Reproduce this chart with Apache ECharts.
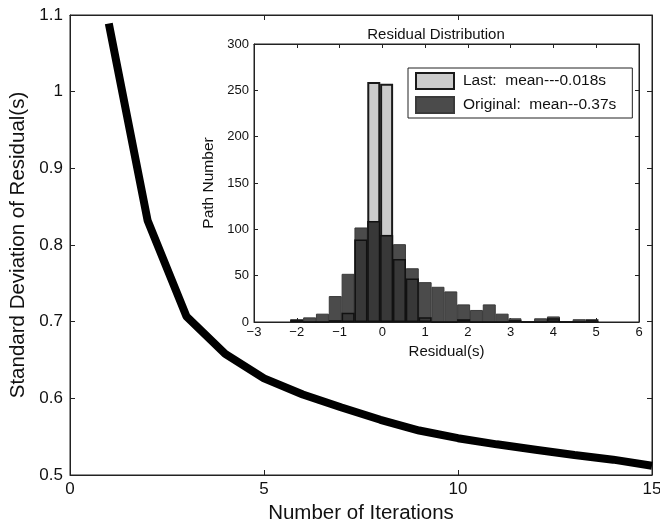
<!DOCTYPE html>
<html><head><meta charset="utf-8">
<script src="https://cdn.jsdelivr.net/npm/echarts@6/dist/echarts.min.js"></script>
<style>html,body{margin:0;padding:0;background:#fff}#c{width:660px;height:522px}</style>
</head><body><div id="c"></div>
<script>
// Main curve
const iterations = [1,2,3,4,5,6,7,8,9,10,11,12,13,14,15];
const stdResidual = [1.089,0.832,0.707,0.658,0.626,0.605,0.588,0.572,0.558,0.548,0.540,0.533,0.526,0.520,0.512];
// Inset histogram
const binCenters = [-2.0,-1.7,-1.4,-1.1,-0.8,-0.5,-0.2,0.1,0.4,0.7,1.0,1.3,1.6,1.9,2.2,2.5,2.8,3.1,3.4,3.7,4.0,4.3,4.6,4.9];
const originalCounts = [2,5,9,28,52,102,109,94,84,58,43,38,33,19,13,19,9,4,1,4,6,1,3,0];
const lastCounts     = [3,0,0,2,10,89,259,257,68,47,5,0,0,3,0,0,0,2,0,0,4,0,0,3];
const lastName = 'Last:  mean---0.018s';
const origName = 'Original:  mean--0.37s';

const F = 'Liberation Sans, Arial, Helvetica, sans-serif';
const overlap = binCenters.map((x,i)=>[x, Math.min(lastCounts[i], originalCounts[i])]);
const lastData = binCenters.map((x,i)=>[x,lastCounts[i]]);
const origData = binCenters.map((x,i)=>[x,originalCounts[i]]);
const minus = v => String(v).replace('-', '\u2212');

const chart = echarts.init(document.getElementById('c'));
const axLine = {show:true, onZero:false, lineStyle:{color:'#222', width:1}};
const hidden = {show:false};
chart.setOption({
  animation:false,
  backgroundColor:'#fff',
  title:{text:'Residual Distribution', left:431, top:22, textAlign:'center', z:10,
    textStyle:{fontFamily:F, fontSize:15, fontWeight:'normal', color:'#111'}},
  legend:{
    data:[lastName, origName], orient:'vertical', left:408, top:68, z:20,
    padding:[4,16,4,7], itemGap:6, itemWidth:38, itemHeight:16, icon:'rect',
    borderColor:'#222', borderWidth:1, backgroundColor:'#fff',
    textStyle:{fontFamily:F, fontSize:15.5, color:'#111', padding:[0,0,0,4]}
  },
  grid:[
    {left:70, top:15, right:8, bottom:47, show:true, borderColor:'#222', borderWidth:1, backgroundColor:'transparent', containLabel:false, outerBoundsMode:'none'},
    {left:254, top:44, width:385, height:278, show:true, borderColor:'#222', borderWidth:1, backgroundColor:'#fff', z:5, containLabel:false, outerBoundsMode:'none'}
  ],
  xAxis:[
    {type:'value', gridIndex:0, min:0, max:15, interval:5, name:'Number of Iterations', nameLocation:'middle', nameGap:26,
     nameTextStyle:{fontFamily:F, fontSize:20.5, color:'#111'},
     axisLine:axLine, axisTick:{inside:true, length:5, lineStyle:{color:'#222'}},
     axisLabel:{fontFamily:F, fontSize:17, color:'#111', margin:6}, splitLine:hidden},
    {type:'value', gridIndex:0, position:'top', min:0, max:15, interval:5,
     axisLine:axLine, axisTick:{inside:true, length:5, lineStyle:{color:'#222'}}, axisLabel:hidden, splitLine:hidden},
    {type:'value', gridIndex:1, min:-3, max:6, interval:1, name:'Residual(s)', nameLocation:'middle', nameGap:21,
     nameTextStyle:{fontFamily:F, fontSize:15, color:'#111'},
     axisLine:axLine, axisTick:{inside:true, length:4, lineStyle:{color:'#222'}},
     axisLabel:{fontFamily:F, fontSize:13, color:'#111', margin:4, formatter:minus}, splitLine:hidden, z:6},
    {type:'value', gridIndex:1, position:'top', min:-3, max:6, interval:1,
     axisLine:axLine, axisTick:{inside:true, length:4, lineStyle:{color:'#222'}}, axisLabel:hidden, splitLine:hidden, z:6}
  ],
  yAxis:[
    {type:'value', gridIndex:0, min:0.5, max:1.1, interval:0.1, name:'Standard Deviation of Residual(s)', nameLocation:'middle', nameGap:35,
     nameTextStyle:{fontFamily:F, fontSize:20.5, color:'#111'},
     axisLine:axLine, axisTick:{inside:true, length:5, lineStyle:{color:'#222'}},
     axisLabel:{fontFamily:F, fontSize:17, color:'#111', margin:7}, splitLine:hidden},
    {type:'value', gridIndex:0, position:'right', min:0.5, max:1.1, interval:0.1,
     axisLine:axLine, axisTick:{inside:true, length:5, lineStyle:{color:'#222'}}, axisLabel:hidden, splitLine:hidden},
    {type:'value', gridIndex:1, min:0, max:300, interval:50, name:'Path Number', nameLocation:'middle', nameGap:33,
     nameTextStyle:{fontFamily:F, fontSize:15.5, color:'#111'},
     axisLine:axLine, axisTick:{inside:true, length:4, lineStyle:{color:'#222'}},
     axisLabel:{fontFamily:F, fontSize:13, color:'#111', margin:5}, splitLine:hidden, z:6},
    {type:'value', gridIndex:1, position:'right', min:0, max:300, interval:50,
     axisLine:axLine, axisTick:{inside:true, length:4, lineStyle:{color:'#222'}}, axisLabel:hidden, splitLine:hidden, z:6}
  ],
  series:[
    {type:'line', xAxisIndex:0, yAxisIndex:0, data:iterations.map((x,i)=>[x,stdResidual[i]]),
     symbol:'none', lineStyle:{color:'#000', width:8}, z:2},
    {name:lastName, type:'bar', xAxisIndex:2, yAxisIndex:2, data:lastData, barWidth:13, barGap:'-100%',
     itemStyle:{color:'#cbcbcb', borderColor:'#1a1a1a', borderWidth:2}, z:6},
    {name:origName, type:'bar', xAxisIndex:2, yAxisIndex:2, data:origData, barWidth:13, barGap:'-100%',
     itemStyle:{color:'#4b4b4b', borderColor:'#3a3a3a', borderWidth:1}, z:7},
    {name:'overlap', type:'bar', xAxisIndex:2, yAxisIndex:2, data:overlap, barWidth:13, barGap:'-100%',
     itemStyle:{color:'#383838', borderColor:'#111', borderWidth:1.5}, z:8}
  ]
});
</script></body></html>
